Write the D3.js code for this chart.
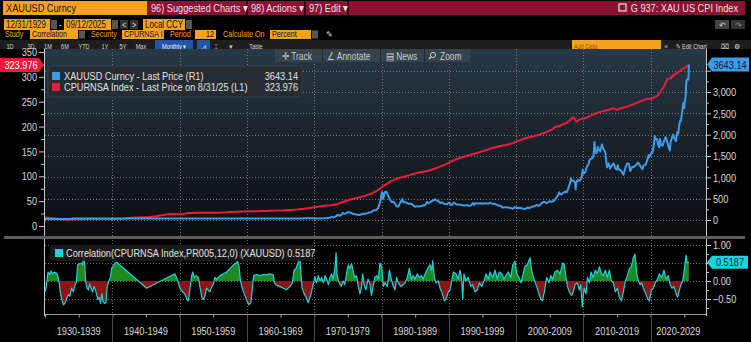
<!DOCTYPE html>
<html><head><meta charset="utf-8">
<script src="https://cdn.jsdelivr.net/npm/d3@7"></script>
<style>
html,body{margin:0;padding:0;background:#000;overflow:hidden}
svg{display:block;font-family:'Liberation Sans',Arial,sans-serif}
</style></head><body><svg id="c" width="751" height="342"></svg>
<script>
// ---------- DATA ----------
const goldDates = [1929.99,1933.9,1934.1,1940,1950,1960,1967.9,
1968.25,1968.5,1968.75,1969.0,1969.25,1969.5,1969.75,1970.0,1970.5,1971.0,1971.5,1972.0,1972.25,1972.5,1972.75,
1973.0,1973.25,1973.5,1973.75,1974.0,1974.25,1974.5,1974.75,1975.0,1975.25,1975.5,1975.75,1976.0,1976.25,1976.5,1976.75,
1977.0,1977.25,1977.5,1977.75,1978.0,1978.25,1978.5,1978.75,1979.0,1979.25,1979.5,1979.75,1979.92,1980.05,1980.15,1980.25,1980.5,1980.75,1980.92,
1981.25,1981.5,1981.75,1981.95,1982.25,1982.5,1982.75,1982.95,1983.1,1983.25,1983.5,1983.75,1983.95,1984.25,1984.5,1984.75,1984.95,
1985.25,1985.5,1985.75,1985.95,1986.25,1986.5,1986.75,1986.95,1987.25,1987.5,1987.75,1987.95,1988.25,1988.5,1988.75,1988.95,
1989.25,1989.5,1989.75,1989.95,1990.1,1990.25,1990.5,1990.75,1990.95,1991.25,1991.5,1991.75,1991.95,1992.25,1992.5,1992.75,1992.95,
1993.25,1993.5,1993.6,1993.75,1993.95,1994.25,1994.5,1994.75,1994.95,1995.25,1995.5,1995.75,1995.95,1996.1,1996.25,1996.5,1996.75,1996.95,
1997.25,1997.5,1997.75,1997.95,1998.25,1998.5,1998.75,1998.95,1999.25,1999.5,1999.75,1999.95,2000.1,2000.25,2000.5,2000.75,2000.95,
2001.25,2001.5,2001.75,2001.95,2002.25,2002.5,2002.75,2002.95,2003.1,2003.25,2003.5,2003.75,2003.95,2004.25,2004.5,2004.75,2004.95,
2005.25,2005.5,2005.75,2005.95,2006.25,2006.4,2006.5,2006.75,2006.95,2007.25,2007.5,2007.75,2007.95,2008.15,2008.25,2008.5,2008.75,2008.85,2008.95,
2009.15,2009.25,2009.5,2009.75,2009.9,2009.95,2010.25,2010.5,2010.75,2010.95,2011.25,2011.5,2011.65,2011.75,2011.95,
2012.15,2012.25,2012.5,2012.75,2012.95,2013.25,2013.5,2013.75,2013.95,2014.25,2014.5,2014.75,2014.95,
2015.1,2015.25,2015.5,2015.75,2015.95,2016.25,2016.5,2016.75,2016.95,2017.25,2017.5,2017.75,2017.95,
2018.1,2018.25,2018.5,2018.75,2018.95,2019.25,2019.5,2019.7,2019.75,2019.95,2020.15,2020.25,2020.5,2020.6,2020.75,2020.95,
2021.15,2021.25,2021.4,2021.5,2021.75,2021.95,2022.2,2022.25,2022.5,2022.75,2022.85,2022.95,2023.25,2023.35,2023.5,2023.75,2023.95,
2024.1,2024.25,2024.4,2024.5,2024.65,2024.75,2024.85,2024.92,2024.99,2025.08,2025.17,2025.25,2025.33,2025.42,2025.5,2025.58,2025.64,2025.67];
const goldValues = [20.67,20.67,35,35,35,35,35,
38,40,39,42,43,41,40,35,36,38,40,46,48,65,64,
65,90,120,100,115,170,145,155,185,178,165,142,140,128,125,117,
133,148,143,155,165,180,183,220,226,240,277,397,512,653,637,495,653,666,590,
480,422,428,397,320,315,397,448,490,420,415,405,382,388,375,340,309,
325,317,325,327,345,345,424,391,420,448,460,486,456,437,398,410,
385,375,367,401,410,368,352,408,386,355,367,355,353,341,343,349,333,
337,378,400,355,391,389,386,394,383,392,387,384,387,405,396,382,379,369,
349,334,332,290,301,296,294,288,280,261,299,288,293,277,288,274,272,
258,271,293,279,303,318,324,347,350,336,346,388,416,426,393,416,438,
429,437,473,517,583,650,614,599,632,663,650,743,834,972,917,928,880,720,882,
940,917,927,1000,1180,1096,1113,1244,1307,1421,1439,1500,1826,1620,1565,
1710,1669,1604,1772,1675,1595,1234,1327,1205,1284,1327,1208,1184,
1280,1183,1172,1115,1061,1233,1322,1316,1146,1249,1242,1280,1303,
1345,1325,1253,1192,1282,1292,1409,1520,1472,1517,1585,1577,1781,1970,1886,1898,
1734,1708,1900,1770,1743,1829,1940,1937,1807,1661,1630,1824,1969,2000,1919,1849,2063,
2030,2230,2330,2327,2500,2635,2744,2650,2625,2800,2858,3124,3289,3289,3303,3290,3448,3643.14];

const cpiDates = [1929.99,1930.5,1931.5,1932.5,1933.3,1933.5,1934.5,1935.5,1936.5,1937.5,1938.5,1939.5,
1940.5,1941.5,1942.5,1943.5,1944.5,1945.5,1946.5,1947.5,1948.5,1949.5,1950.5,1951.5,1952.5,1953.5,1954.5,1955.5,1956.5,1957.5,1958.5,1959.5,
1960.5,1961.5,1962.5,1963.5,1964.5,1965.5,1966.5,1967.5,1968.5,1969.5,1970.5,1971.5,1972.5,1973.5,1974.5,1975.5,1976.5,1977.5,1978.5,1979.5,
1980.5,1981.5,1982.5,1983.5,1984.5,1985.5,1986.5,1987.5,1988.5,1989.5,1990.5,1991.5,1992.5,1993.5,1994.5,1995.5,1996.5,1997.5,1998.5,1999.5,
2000.5,2001.5,2002.5,2003.5,2004.5,2005.5,2005.75,2006.5,2007.5,2008.5,2008.95,2009.5,2010.5,2011.5,2012.5,2013.5,2014.5,2015.0,2015.5,2016.5,2017.5,2018.5,2019.5,
2020.3,2020.5,2021.0,2021.5,2022.0,2022.5,2022.95,2023.5,2024.0,2024.5,2025.0,2025.5,2025.67];
const cpiValues = [17.2,16.7,15.2,13.7,12.6,13.0,13.4,13.7,13.9,14.4,14.1,13.9,
14.0,14.7,16.3,17.3,17.6,18.0,19.5,22.3,24.1,23.8,24.1,26.0,26.5,26.7,26.9,26.8,27.2,28.1,28.9,29.1,
29.6,29.9,30.2,30.6,31.0,31.5,32.4,33.4,34.8,36.7,38.8,40.5,41.8,44.4,49.3,53.8,56.9,60.6,65.2,72.6,
82.4,90.9,96.5,99.6,103.9,107.6,109.6,113.6,118.3,124.0,130.7,136.2,140.3,144.5,148.2,152.4,156.9,160.5,163.0,166.6,
172.2,177.1,179.9,184.0,188.9,195.3,199.2,201.6,207.3,219.0,210.2,214.5,218.1,224.9,229.6,233.0,236.7,233.7,237.0,240.0,245.1,251.1,255.7,
256.4,258.8,261.6,271.0,281.1,296.3,296.8,304.7,308.4,313.7,317.7,322.6,323.976];

const corrDates = [1930.0,1930.2,1930.45,1930.7,1930.9,1931.1,1931.4,1931.7,1931.9,1932.1,1932.3,1932.55,1932.75,1933.0,1933.2,1933.45,1933.7,1933.95,
1934.2,1934.45,1934.65,1934.85,1935.1,1935.4,1935.6,1935.75,1935.9,1936.05,1936.25,1936.45,1936.65,1936.85,1937.05,1937.3,1937.55,1937.85,
1938.05,1938.25,1938.45,1938.65,1938.85,1939.05,1939.25,1939.45,1939.7,1939.9,1940.15,1940.4,1940.65,1945.1,1949.3,1949.55,1949.8,
1950.05,1950.45,1950.8,1951.05,1951.3,1951.55,1951.8,1951.95,1952.2,1952.5,1952.8,1953.05,1953.3,1953.5,1953.8,1954.0,1954.3,1954.5,1954.8,
1955.0,1955.25,1955.5,1956.0,1956.5,1957.0,1957.5,1958.0,1958.4,1958.6,1958.8,1959.05,1959.3,1959.6,1960.0,1960.3,1960.6,1960.8,
1961.0,1961.45,1961.95,1962.4,1962.9,1963.4,1963.9,1964.1,1964.4,1964.9,1965.4,1965.9,1966.4,1966.75,1967.0,1967.3,1967.6,1967.85,1967.95,
1968.2,1968.5,1968.8,1969.1,1969.3,1969.6,1969.9,
1970.1,1970.35,1970.6,1970.85,1971.1,1971.35,1971.6,1971.85,1972.1,1972.35,1972.6,1972.8,1973.05,1973.25,1973.4,1973.7,1974.0,1974.3,1974.55,1974.8,
1975.05,1975.3,1975.55,1975.8,1976.05,1976.3,1976.55,1976.8,1977.05,1977.2,1977.4,1977.7,1978.0,1978.3,1978.5,1978.8,1979.0,1979.3,1979.5,1979.78,
1980.03,1980.28,1980.5,1980.87,1981.17,1981.4,1981.66,1982.0,1982.26,1982.5,1982.85,1983.25,1983.5,1983.84,1984.14,1984.4,1984.73,1984.98,
1985.33,1985.6,1985.97,1986.2,1986.6,1986.86,1987.2,1987.46,1987.6,1987.85,1988.1,1988.45,1988.7,1989.04,1989.34,1989.6,1989.93,
1990.18,1990.43,1990.68,1991.07,1991.4,1991.66,1991.9,1992.06,1992.26,1992.56,1992.9,1993.25,1993.55,1993.9,1994.24,1994.54,1994.9,
1995.23,1995.53,1995.88,1996.12,1996.52,1996.87,1997.21,1997.51,1997.86,1998.2,1998.5,1998.85,1999.2,1999.5,1999.84,
2000.1,2000.43,2000.73,2000.98,2001.3,2001.67,2002.07,2002.3,2002.66,2002.96,2003.3,2003.65,2003.9,2004.2,2004.55,2004.9,
2005.14,2005.43,2005.78,2006.13,2006.53,2006.92,2007.17,2007.42,2007.62,2007.91,2008.26,2008.5,2008.75,2009.1,2009.4,2009.6,2009.84,
2010.09,2010.39,2010.6,2010.89,2011.13,2011.48,2011.78,2012.07,2012.37,2012.67,2012.96,2013.26,2013.56,2013.86,2014.16,2014.45,2014.75,
2015.05,2015.34,2015.64,2015.94,2016.23,2016.53,2016.83,2017.12,2017.42,2017.67,2017.92,2018.17,2018.41,2018.66,2018.91,2019.26,2019.55,2019.8,
2020.1,2020.4,2020.69,2020.99,2021.29,2021.63,2021.98,2022.28,2022.62,2022.87,2023.17,2023.46,2023.76,2024.0,2024.26,2024.5,2024.75,
2024.99,2025.25,2025.45,2025.67];
const corrValues = [-0.30,-0.15,0.25,0.18,0.28,0.2,0.24,0.22,0.15,-0.05,-0.35,-0.56,-0.66,-0.6,-0.5,-0.38,-0.42,-0.2,
-0.3,-0.12,-0.05,0.45,0.48,0.5,0.45,0.72,0.45,-0.02,-0.2,-0.25,-0.08,-0.22,-0.3,-0.15,-0.28,-0.52,
-0.45,-0.62,-0.35,-0.58,-0.62,-0.6,-0.15,-0.02,0.1,0.35,0.42,0.5,0.52,-0.2,0.2,0.1,-0.05,
-0.2,-0.3,-0.36,-0.5,-0.55,-0.2,0.15,0.25,0.1,0.15,0.1,-0.2,-0.45,-0.52,-0.4,-0.2,-0.26,-0.3,-0.15,
-0.1,0.1,0.05,0.15,0.2,0.25,0.35,0.45,0.5,0.55,0.45,0.0,-0.2,-0.35,-0.55,-0.66,-0.6,-0.2,
0.15,0.18,0.15,0.18,0.17,0.2,0.18,-0.05,-0.12,-0.15,-0.2,-0.24,-0.15,-0.05,0.3,0.35,0.5,0.95,0.4,
-0.2,-0.35,-0.45,-0.6,-0.5,-0.3,-0.05,
0.12,-0.05,0.15,0.0,0.1,-0.05,0.15,0.05,-0.1,0.1,0.2,0.05,0.3,0.78,0.15,-0.05,-0.15,0.0,-0.1,0.2,
0.45,0.35,0.48,0.25,0.1,0.15,-0.15,-0.35,-0.15,0.2,-0.1,-0.25,0.05,-0.1,-0.4,-0.1,0.1,0.15,0.05,0.5,
0.4,-0.15,-0.05,-0.15,0.3,0.1,-0.1,-0.25,0.1,-0.05,-0.15,-0.1,-0.05,0.1,0.35,0.05,0.15,0.05,
0.2,0.1,0.15,0.05,0.25,0.35,0.45,0.3,0.57,0.1,-0.05,0.0,-0.2,-0.35,-0.55,-0.5,-0.3,
-0.25,0.0,0.25,0.2,0.05,0.3,0.05,-0.5,0.2,0.0,0.1,-0.15,-0.1,-0.3,-0.25,-0.05,-0.15,
0.0,0.2,0.05,0.25,0.1,0.3,0.05,0.25,0.2,0.05,0.15,0.25,0.1,0.45,0.55,
0.2,0.1,-0.05,0.15,0.4,0.45,0.65,0.3,0.05,-0.1,-0.3,-0.5,-0.55,-0.3,0.1,-0.05,
0.15,0.05,0.25,0.3,0.2,0.5,0.45,0.1,-0.15,-0.3,-0.4,-0.3,-0.1,-0.05,-0.25,-0.1,-0.72,
-0.2,-0.35,0.1,-0.05,0.25,0.1,0.3,0.2,0.4,0.2,0.15,0.3,0.1,0.3,0.0,-0.05,-0.3,
-0.2,-0.45,-0.55,-0.3,0.0,0.15,0.35,0.4,0.65,0.75,0.2,0.0,-0.1,-0.05,-0.2,-0.35,-0.5,-0.55,
-0.25,-0.2,-0.05,0.05,0.2,0.1,0.3,0.05,0.15,-0.1,-0.2,-0.15,-0.35,-0.45,-0.25,-0.1,0.0,
0.3,0.72,0.5,0.5187];

const leftTicks = [0,50,100,150,200,250,300,350];
const rightTicks = [0,500,1000,1500,2000,2500,3000,3500];
const corrTicks = [-0.5,0,0.5,1];
const decades = [1930,1940,1950,1960,1970,1980,1990,2000,2010,2020];
const decadeLabels = ["1930-1939","1940-1949","1950-1959","1960-1969","1970-1979","1980-1989","1990-1999","2000-2009","2010-2019","2020-2029"];
const legendMain = ["XAUUSD Curncy - Last Price (R1)","CPURNSA Index - Last Price on 8/31/25 (L1)"];
const legendMainValues = ["3643.14","323.976"];
const corrLegend = "Correlation(CPURNSA Index,PR005,12,0) (XAUUSD) 0.5187";

// ---------- COLORS ----------
const ORANGE = "#f6a21e", HRED = "#8a1232", BLUE = "#3d9ce9", RED = "#f0193c", CYAN = "#1ad3de";
const SX = 0.8; // horizontal text compression (narrow terminal font)

const svg = d3.select("#c");
const defs = svg.append("defs");
const grad = defs.append("linearGradient").attr("id","bg").attr("x1",0).attr("x2",0).attr("y1",0).attr("y2",1);
grad.append("stop").attr("offset","0%").attr("stop-color","#283845");
grad.append("stop").attr("offset","55%").attr("stop-color","#172028");
grad.append("stop").attr("offset","100%").attr("stop-color","#0b0d0f");

function rect(x,y,w,h,fill,extra){const r=svg.append("rect").attr("x",x).attr("y",y).attr("width",w).attr("height",h).attr("fill",fill); if(extra) for(const k in extra) r.attr(k,extra[k]); return r;}
function text(x,y,s,fill,size,anchor,sx){return svg.append("text").attr("transform",`translate(${x},${y}) scale(${sx||SX},1)`).text(s).attr("fill",fill).attr("font-size",size).attr("text-anchor",anchor||"start");}
function styleAxis(a,hidden){a.select(".domain").remove();a.selectAll("line").attr("stroke","#c8c8c8");
  a.selectAll(".tick").filter(d=>hidden&&hidden.includes(d)).select("text").remove();
  a.selectAll("text").attr("fill","#d8d8d8").attr("font-size",11.5).attr("font-family","'Liberation Sans',Arial,sans-serif")
   .each(function(){const t=d3.select(this);const xx=+t.attr("x")||0;t.attr("x",xx/SX).attr("transform",`scale(${SX},1)`);});}

// ---------- HEADER ----------
rect(3,1,144,14,ORANGE);
text(6,12,"XAUUSD Curncy","#111",11.5);
rect(147,1,598,14,HRED);
rect(246,1,2,14,"#3a0010"); rect(304,1,2,14,"#3a0010"); rect(347,1,2,14,"#3a0010");
text(151,12,"96) Suggested Charts ▾","#f3dfe4",11.5);
text(251,12,"98) Actions ▾","#f3dfe4",11.5);
text(309,12,"97) Edit ▾","#f3dfe4",11.5);
rect(619,4,7,7,"none",{stroke:"#f3dfe4","stroke-width":1.2});
text(738,12,"G 937: XAU US CPI Index","#f3dfe4",11.5,"end");
// row 2
rect(4,19,46,11,ORANGE); text(6,27.5,"12/31/1929","#111",10);
rect(51,20,6,9,"#555");
text(59,27.5,"-","#ddd",10);
rect(64,19,47,11,ORANGE); text(66,27.5,"09/12/2025","#111",10);
rect(112,20,6,9,"#555");
rect(120,20,8,9,"#333"); text(124,27.5,"<","#ddd",9,"middle");
rect(130,20,8,9,"#333"); text(134,27.5,">","#ddd",9,"middle");
rect(143,19,42,11,ORANGE); text(145,27.5,"Local CCY","#111",10);
rect(186,20,6,9,"#555");
rect(715,20,14,9,"#444"); text(722,27.5,"↶","#ccc",8,"middle",1);
rect(731,20,14,9,"#333"); text(738,27.5,"↷","#888",8,"middle",1);
// row 3
text(5,36.5,"Study",ORANGE,9);
rect(30,30,48,9,ORANGE); text(32,36.5,"Correlation","#111",9);
rect(79,30.5,6,8,"#555");
text(91,36.5,"Security",ORANGE,9);
rect(122,30,42,9,ORANGE); text(124,36.5,"CPURNSA I","#111",9);
text(170,36.5,"Period",ORANGE,9);
rect(195,30,21,9,ORANGE); text(214,36.5,"12","#111",9,"end");
text(223,36.5,"Calculate On",ORANGE,9);
rect(270,30,41,9,ORANGE); text(272,36.5,"Percent","#111",9);
rect(312,30.5,6,8,"#555");
text(329,36.5,"✎","#ddd",8,"middle",1);
// row 4
rect(0,40,751,9,"#1d1d1d");
const periods=[["1D",10],["3D",31],["1M",48],["6M",65],["YTD",84],["1Y",105],["5Y",123],["Max",141],["Table",256]];
periods.forEach(p=>text(p[1],48.5,p[0],"#d8d8d8",7,"middle"));
rect(155,40,38,9,"#2255aa"); text(174,48.5,"Monthly ▾","#e8eefc",7,"middle");
rect(197,40,13,9,"#2255aa"); text(203.5,48.5,"⩘","#e8eefc",7,"middle",1);
text(216,48.5,"⌶","#ccc",7,"middle",1); text(231,48.5,"▾","#ccc",7,"middle",1);
rect(572,40,89,9,ORANGE); text(574,48.5,"Add Data","#8a5a12",7);
text(666,48.5,"«","#ddd",7,"middle");
text(676,48.5,"✎ Edit Chart","#ddd",7);
text(725,48.5,"⌧","#ddd",7,"middle",1);
text(737,48.5,"⚙","#ddd",7,"middle",1);

// ---------- SCALES ----------
const x = d3.scaleLinear().domain([1930,2030]).range([45,718]);
const XL = 45, XR = 706;
const yL = d3.scaleLinear().domain([0,350]).range([226,52]);
const yR = d3.scaleLinear().domain([0,3000]).range([220,92]);
const yC = d3.scaleLinear().domain([-0.5,1]).range([299,245]);

// ---------- MAIN PANEL ----------
rect(XL,49,XR-XL,187,"url(#bg)");
const gridM = svg.append("g").attr("stroke","#6f7880").attr("stroke-dasharray","1,2").attr("stroke-width",1);
rightTicks.forEach(t=>gridM.append("line").attr("x1",XL).attr("x2",XR).attr("y1",Math.round(yR(t))+0.5).attr("y2",Math.round(yR(t))+0.5));
decades.slice(1).forEach(d=>gridM.append("line").attr("x1",Math.round(x(d))+0.5).attr("x2",Math.round(x(d))+0.5).attr("y1",49).attr("y2",236));

defs.append("clipPath").attr("id","clipM").append("rect").attr("x",XL).attr("y",49).attr("width",XR-XL).attr("height",187);
const gm = svg.append("g").attr("clip-path","url(#clipM)");
const cpiPts = cpiDates.map((d,i)=>[d,cpiValues[i]]);
const goldPts = goldDates.map((d,i)=>[d,goldValues[i]]);
gm.append("path").attr("d",d3.line().x(d=>x(d[0])).y(d=>yL(d[1]))(cpiPts)).attr("fill","none").attr("stroke",RED).attr("stroke-width",2).attr("stroke-linejoin","round");
gm.append("path").attr("d",d3.line().x(d=>x(d[0])).y(d=>yR(d[1]))(goldPts)).attr("fill","none").attr("stroke",BLUE).attr("stroke-width",2).attr("stroke-linejoin","round");

// toolbar in chart
rect(275,49,195,13,"#36424c");
[322,380,424].forEach(v=>rect(v,49,1,13,"#222a30"));
text(282,59.5,"✛ Track","#c8ced3",10.5);
text(327,59.5,"∠ Annotate","#c8ced3",10.5);
text(386,59.5,"▤ News","#c8ced3",10.5);
svg.append("circle").attr("cx",433).attr("cy",55).attr("r",2.6).attr("fill","none").attr("stroke","#c8ced3").attr("stroke-width",1);
svg.append("line").attr("x1",431).attr("y1",57).attr("x2",429).attr("y2",59).attr("stroke","#c8ced3").attr("stroke-width",1.2);
text(440,59.5,"Zoom","#c8ced3",10.5);

// axes main
const axL = svg.append("g").attr("transform","translate(44,0)").call(d3.axisLeft(yL).tickValues(leftTicks).tickSize(5).tickPadding(2));
const axLm = svg.append("g").attr("transform","translate(44,0)").call(d3.axisLeft(yL).tickValues(d3.range(25,350,50)).tickSize(3).tickFormat(""));
const axR = svg.append("g").attr("transform","translate(706,0)").call(d3.axisRight(yR).tickValues(rightTicks).tickSize(5).tickPadding(2));
const axRm = svg.append("g").attr("transform","translate(706,0)").call(d3.axisRight(yR).tickValues(d3.range(250,3750,500)).tickSize(3).tickFormat(""));
styleAxis(axL); styleAxis(axLm); styleAxis(axR,[3500]); styleAxis(axRm);
svg.append("line").attr("x1",44.5).attr("x2",44.5).attr("y1",49).attr("y2",236).attr("stroke","#c8c8c8");
svg.append("line").attr("x1",706.5).attr("x2",706.5).attr("y1",49).attr("y2",236).attr("stroke","#c8c8c8");

// legend main
rect(48,66,254,31,"#262c31",{opacity:0.92,rx:3,stroke:"#3a4046"});
rect(52,72,8,8,BLUE); rect(52,83,8,8,RED);
text(64,80,legendMain[0],"#e2e2e2",11.5);
text(64,91,legendMain[1],"#e2e2e2",11.5);
text(298,80,legendMainValues[0],"#e2e2e2",11.5,"end");
text(298,91,legendMainValues[1],"#e2e2e2",11.5,"end");

// value labels
const ly = yL(cpiValues[cpiValues.length-1]);
svg.append("path").attr("d",`M0,${ly-7}H39L44,${ly}L39,${ly+7}H0Z`).attr("fill",RED);
text(21,ly+4,d3.format(".3f")(cpiValues[cpiValues.length-1]),"#fff",11.5,"middle");
const ry = yR(goldValues[goldValues.length-1]);
svg.append("path").attr("d",`M707,${ry}L712,${ry-7}H749V${ry+7}H712Z`).attr("fill",BLUE);
text(730,ry+4,d3.format(".2f")(goldValues[goldValues.length-1]),"#0c1a2c",11.5,"middle");

// separator
rect(4,236,741,3,"#5c5c5c");

// ---------- LOWER PANEL ----------
const gridC = svg.append("g").attr("stroke","#6a6a6a").attr("stroke-dasharray","1,2");
corrTicks.forEach(t=>gridC.append("line").attr("x1",XL).attr("x2",XR).attr("y1",Math.round(yC(t))+0.5).attr("y2",Math.round(yC(t))+0.5));
decades.slice(1).forEach(d=>gridC.append("line").attr("x1",Math.round(x(d))+0.5).attr("x2",Math.round(x(d))+0.5).attr("y1",240).attr("y2",314));

const y0 = yC(0);
defs.append("clipPath").attr("id","cPos").append("rect").attr("x",XL).attr("y",239).attr("width",XR-XL).attr("height",y0-239);
defs.append("clipPath").attr("id","cNeg").append("rect").attr("x",XL).attr("y",y0).attr("width",XR-XL).attr("height",316-y0);
const corrPts = corrDates.map((d,i)=>[d,corrValues[i]]);
const area = d3.area().x(d=>x(d[0])).y0(y0).y1(d=>yC(d[1]));
svg.append("path").attr("d",area(corrPts)).attr("fill","#1f8a1f").attr("clip-path","url(#cPos)");
svg.append("path").attr("d",area(corrPts)).attr("fill","#8c1414").attr("clip-path","url(#cNeg)");
svg.append("path").attr("d",d3.line().x(d=>x(d[0])).y(d=>yC(d[1]))(corrPts)).attr("fill","none").attr("stroke",CYAN).attr("stroke-width",1.2).attr("stroke-linejoin","round");

const axC = svg.append("g").attr("transform","translate(706,0)").call(d3.axisRight(yC).tickValues(corrTicks).tickSize(5).tickPadding(2).tickFormat(d3.format(".2f")));
const axCm = svg.append("g").attr("transform","translate(706,0)").call(d3.axisRight(yC).tickValues([-0.75,-0.25,0.25,0.75]).tickSize(3).tickFormat(""));
styleAxis(axC,[0.5]); styleAxis(axCm);
svg.append("line").attr("x1",706.5).attr("x2",706.5).attr("y1",239).attr("y2",316).attr("stroke","#c8c8c8");
svg.append("line").attr("x1",44.5).attr("x2",44.5).attr("y1",239).attr("y2",316).attr("stroke","#c8c8c8");

// bottom axis
const axB = svg.append("g").attr("transform","translate(0,314.5)").call(d3.axisBottom(x).tickValues(d3.range(1930,2030,5)).tickSize(3).tickFormat(""));
axB.select(".domain").remove(); axB.selectAll("line").attr("stroke","#aaa");
svg.append("line").attr("x1",XL).attr("x2",XR).attr("y1",314.5).attr("y2",314.5).attr("stroke","#999");
decades.slice(1).forEach(d=>svg.append("line").attr("x1",Math.round(x(d))+0.5).attr("x2",Math.round(x(d))+0.5).attr("y1",315).attr("y2",342).attr("stroke","#4a4a4a"));
decades.forEach((d,i)=>{const cx=(x(d)+Math.min(x(d+10),XR))/2; text(cx,335,decadeLabels[i],"#d8d8d8",11.5,"middle");});

// legend lower
rect(50,245,263,16,"#1a1a1a",{rx:2,opacity:0.92});
rect(55,249,8,8,CYAN);
text(66,257,corrLegend,"#e2e2e2",11.5);

// label lower
const cy = yC(corrValues[corrValues.length-1]);
svg.append("path").attr("d",`M707,${cy}L712,${cy-6.5}H748V${cy+6.5}H712Z`).attr("fill",CYAN);
text(730,cy+4,d3.format(".4f")(corrValues[corrValues.length-1]),"#0a2a30",11.5,"middle");
</script></body></html>
